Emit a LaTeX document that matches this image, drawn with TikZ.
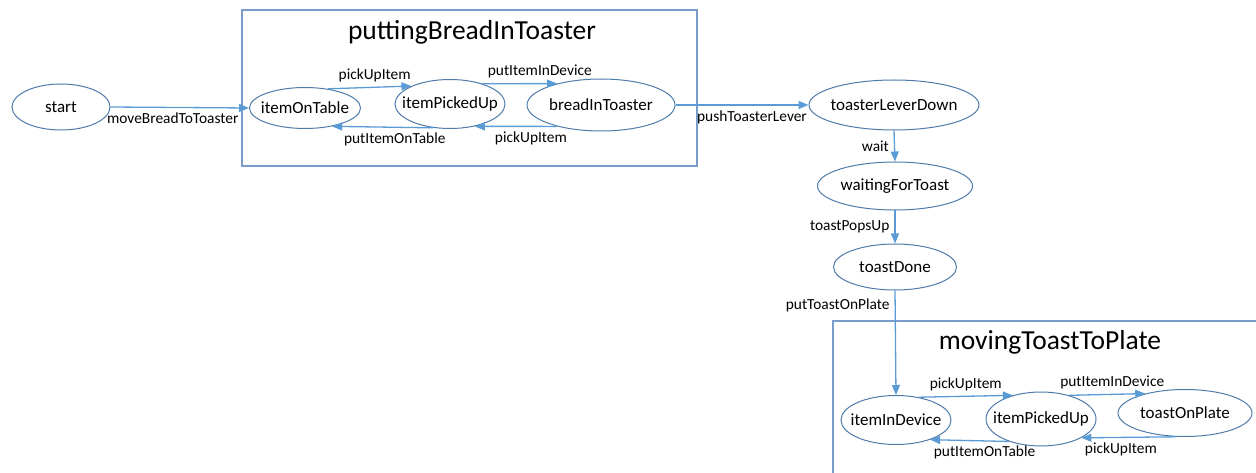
\documentclass[tikz,border=0pt]{standalone}
\usepackage{fontspec}
\setmainfont{Carlito}
\usepackage{xcolor}
\usetikzlibrary{shapes.geometric,arrows.meta,positioning}

\definecolor{stateline}{HTML}{4F7BAA}
\definecolor{boxline}{HTML}{7A9CC8}
\definecolor{transline}{HTML}{5B9BD5}

\tikzset{
    state/.style={ellipse, draw=stateline, line width=1pt, inner sep=-20pt, font=\fontsize{17}{19}\selectfont},
    trans/.style={-{Triangle[length=10pt,width=8pt]}, draw=transline, line width=1.3pt},
    group/.style={draw=boxline, line width=1.3pt},
    lbl/.style={font=\fontsize{15.4}{17}\selectfont, inner sep=5pt},
    grouptitle/.style={font=\fontsize{27.5}{31}\selectfont}
}

\begin{document}
\begin{tikzpicture}[x=1pt, y=-1pt]
    \useasboundingbox (0,0) rectangle (1256,473);
    \clip (0,0) rectangle (1256,473);

    % Group boxes
    \draw[group] (242,10) rectangle (697,166);
    \node[grouptitle] (titleBread) at (472,32) {puttingBreadInToaster};
    \draw[group] (833,321) rectangle (1270,490);
    \node[grouptitle] (titlePlate) at (1050,342) {movingToastToPlate};

    % States
    \node[state, minimum width=98pt, minimum height=46pt] (start) at (61,107) {start};
    \node[state, minimum width=111pt, minimum height=41pt] (itemOnTable) at (305,108) {itemOnTable};
    \node[state, minimum width=110pt, minimum height=49pt] (itemPickedUpA) at (450,104) {itemPickedUp};
    \node[state, minimum width=148pt, minimum height=52pt] (breadInToaster) at (601,105) {breadInToaster};
    \node[state, minimum width=170pt, minimum height=50pt] (toasterLeverDown) at (894,105) {toasterLeverDown};
    \node[state, minimum width=155pt, minimum height=48pt] (waitingForToast) at (895,186) {waitingForToast};
    \node[state, minimum width=123pt, minimum height=46pt] (toastDone) at (895,267) {toastDone};
    \node[state, minimum width=110pt, minimum height=49pt] (itemInDevice) at (896,420) {itemInDevice};
    \node[state, minimum width=110pt, minimum height=54pt] (itemPickedUpB) at (1041,419) {itemPickedUp};
    \node[state, minimum width=134pt, minimum height=47pt] (toastOnPlate) at (1185,413) {toastOnPlate};

    % Main chain
    \draw[trans] (start.east) -- node[lbl, below, xshift=-7pt] {moveBreadToToaster} (itemOnTable.west);
    \draw[trans] (breadInToaster.east) -- node[lbl, below, xshift=10pt] {pushToasterLever} (toasterLeverDown.west);
    \draw[trans] (toasterLeverDown.south) -- node[lbl, left] {wait} (waitingForToast.north);
    \draw[trans] (waitingForToast.south) -- node[lbl, left] {toastPopsUp} (toastDone.north);
    \draw[trans] (toastDone.south) -- node[lbl, left, pos=0.14] {putToastOnPlate} (itemInDevice.north);

    % Inside puttingBreadInToaster
    \draw[trans] (itemOnTable.40) -- node[lbl, above, xshift=5pt] {pickUpItem} (itemPickedUpA.155);
    \draw[trans] (itemPickedUpA.235) -- node[lbl, below, xshift=12pt] {putItemOnTable} (itemOnTable.-34);
    \draw[trans] (itemPickedUpA.32) -- node[lbl, above, xshift=20pt] {putItemInDevice} (breadInToaster.154);
    \draw[trans] (breadInToaster.206) -- node[lbl, below, xshift=15pt] {pickUpItem} (itemPickedUpA.-42);

    % Inside movingToastToPlate
    \draw[trans] (itemInDevice.45) -- node[lbl, above] {pickUpItem} (itemPickedUpB.140);
    \draw[trans] (itemPickedUpB.215) -- node[lbl, below, xshift=15pt] {putItemOnTable} (itemInDevice.-30);
    \draw[trans] (itemPickedUpB.40) -- node[lbl, above, xshift=5pt] {putItemInDevice} (toastOnPlate.154);
    \draw[trans] (toastOnPlate.250) -- node[lbl, below, xshift=-8pt] {pickUpItem} (itemPickedUpB.-25);
\end{tikzpicture}
\end{document}
